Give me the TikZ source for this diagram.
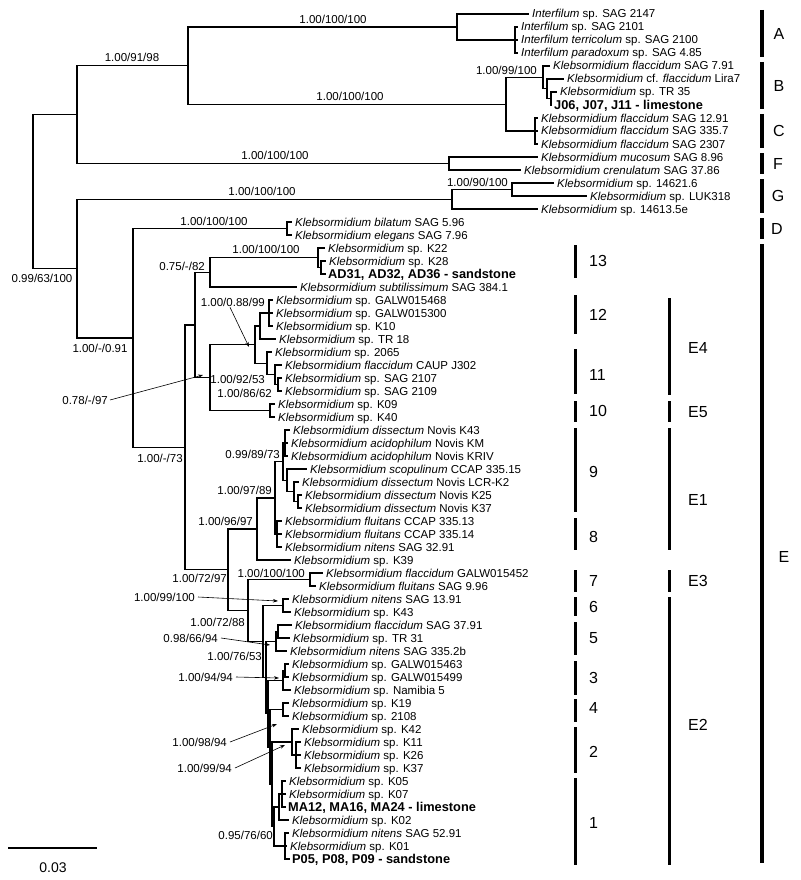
\documentclass[tikz,border=0pt]{standalone}
\usepackage{fontspec}
\setmainfont{Liberation Sans}
\usetikzlibrary{arrows.meta}
\newcommand\Kl{\textit{Klebsormidium}}
\newcommand\Lf[4]{\coordinate (L#1) at (#2,#3); \node[leaf] (T#1) at ([shift={(4,4)}]L#1) {#4};}
\newcommand\Lbold[4]{\coordinate (L#1) at (#2,#3); \node[leaf,font=\fontsize{12.8}{13}\selectfont\bfseries] (T#1) at ([shift={(3,4.5)}]L#1) {#4};}
\newcommand\Br[2]{\draw[branch] (#1) |- (#2);}
\begin{document}
\begin{tikzpicture}[x=1pt,y=-1pt,
  branch/.style={line width=1.25pt, line cap=rect},
  leaf/.style={anchor=base west, inner sep=0pt, font=\fontsize{11.5}{13}\selectfont},
  supp/.style={inner sep=0pt, font=\fontsize{11.5}{13}\selectfont},
  suppR/.style={supp, anchor=base east},
  suppC/.style={supp, anchor=base},
  pointer/.style={line width=0.6pt, -{Stealth[length=5pt,width=3.5pt]}},
  bigbar/.style={line width=4pt},
  smallbar/.style={line width=3pt},
  clabel/.style={inner sep=0pt, font=\fontsize{16}{18}\selectfont}]
\useasboundingbox[fill=white] (0,0) rectangle (800,880);

% ---------- leaves ----------
\Lf{1}{528}{14}{\textit{Interfilum} sp. SAG 2147}
\Lf{2}{517}{27}{\textit{Interfilum} sp. SAG 2101}
\Lf{3}{517}{40}{\textit{Interfilum terricolum} sp. SAG 2100}
\Lf{4}{517}{53}{\textit{Interfilum paradoxum} sp. SAG 4.85}
\Lf{5}{549}{66}{\textit{Klebsormidium flaccidum} SAG 7.91}
\Lf{6}{563}{79}{\Kl{} cf. \textit{flaccidum} Lira7}
\Lf{7}{556}{92}{\Kl{} sp. TR 35}
\Lbold{8}{551}{105}{J06, J07, J11 - limestone}
\Lf{9}{537}{118}{\textit{Klebsormidium flaccidum} SAG 12.91}
\Lf{10}{537}{131}{\textit{Klebsormidium flaccidum} SAG 335.7}
\Lf{11}{537}{144}{\textit{Klebsormidium flaccidum} SAG 2307}
\Lf{12}{537}{157}{\textit{Klebsormidium mucosum} SAG 8.96}
\Lf{13}{520}{170}{\textit{Klebsormidium crenulatum} SAG 37.86}
\Lf{14}{553}{183}{\Kl{} sp. 14621.6}
\Lf{15}{586}{196}{\Kl{} sp. LUK318}
\Lf{16}{537}{209}{\Kl{} sp. 14613.5e}
\Lf{17}{291}{222}{\textit{Klebsormidium bilatum} SAG 5.96}
\Lf{18}{291}{235}{\textit{Klebsormidium elegans} SAG 7.96}
\Lf{19}{324}{248}{\Kl{} sp. K22}
\Lf{20}{325}{261}{\Kl{} sp. K28}
\Lbold{21}{325}{274}{AD31, AD32, AD36 - sandstone}
\Lf{22}{296}{287}{\textit{Klebsormidium subtilissimum} SAG 384.1}
\Lf{23}{272}{300}{\Kl{} sp. GALW015468}
\Lf{24}{272}{313}{\Kl{} sp. GALW015300}
\Lf{25}{272}{326}{\Kl{} sp. K10}
\Lf{26}{275}{339}{\Kl{} sp. TR 18}
\Lf{27}{271}{352}{\Kl{} sp. 2065}
\Lf{28}{281}{365}{\textit{Klebsormidium flaccidum} CAUP J302}
\Lf{29}{281}{378}{\Kl{} sp. SAG 2107}
\Lf{30}{281}{391}{\Kl{} sp. SAG 2109}
\Lf{31}{274}{404}{\Kl{} sp. K09}
\Lf{32}{274}{417}{\Kl{} sp. K40}
\Lf{33}{289}{430}{\textit{Klebsormidium dissectum} Novis K43}
\Lf{34}{287}{443}{\textit{Klebsormidium acidophilum} Novis KM}
\Lf{35}{287}{456}{\textit{Klebsormidium acidophilum} Novis KRIV}
\Lf{36}{306}{469}{\textit{Klebsormidium scopulinum} CCAP 335.15}
\Lf{37}{298}{482}{\textit{Klebsormidium dissectum} Novis LCR-K2}
\Lf{38}{301}{495}{\textit{Klebsormidium dissectum} Novis K25}
\Lf{39}{301}{508}{\textit{Klebsormidium dissectum} Novis K37}
\Lf{40}{281}{521}{\textit{Klebsormidium fluitans} CCAP 335.13}
\Lf{41}{281}{534}{\textit{Klebsormidium fluitans} CCAP 335.14}
\Lf{42}{281}{547}{\textit{Klebsormidium nitens} SAG 32.91}
\Lf{43}{290}{560}{\Kl{} sp. K39}
\Lf{44}{322}{573}{\textit{Klebsormidium flaccidum} GALW015452}
\Lf{45}{315}{586}{\textit{Klebsormidium fluitans} SAG 9.96}
\Lf{46}{288}{599}{\textit{Klebsormidium nitens} SAG 13.91}
\Lf{47}{290}{612}{\Kl{} sp. K43}
\Lf{48}{291}{625}{\textit{Klebsormidium flaccidum} SAG 37.91}
\Lf{49}{289}{638}{\Kl{} sp. TR 31}
\Lf{50}{286}{651}{\textit{Klebsormidium nitens} SAG 335.2b}
\Lf{51}{288}{664}{\Kl{} sp. GALW015463}
\Lf{52}{288}{677}{\Kl{} sp. GALW015499}
\Lf{53}{290}{690}{\Kl{} sp. Namibia 5}
\Lf{54}{288}{703}{\Kl{} sp. K19}
\Lf{55}{288}{716}{\Kl{} sp. 2108}
\Lf{56}{298}{729}{\Kl{} sp. K42}
\Lf{57}{300}{742}{\Kl{} sp. K11}
\Lf{58}{300}{755}{\Kl{} sp. K26}
\Lf{59}{300}{768}{\Kl{} sp. K37}
\Lf{60}{285}{781}{\Kl{} sp. K05}
\Lf{61}{285}{794}{\Kl{} sp. K07}
\Lbold{62}{285}{807}{MA12, MA16, MA24 - limestone}
\Lf{63}{288}{820}{\Kl{} sp. K02}
\Lf{64}{288}{833}{\textit{Klebsormidium nitens} SAG 52.91}
\Lf{65}{286}{846}{\Kl{} sp. K01}
\Lbold{66}{289}{859}{P05, P08, P09 - sandstone}

% ---------- internal nodes ----------
\coordinate (NA2) at (515,40);
\coordinate (NA) at (457,27);
\coordinate (NB3) at (551,98.5);
\coordinate (NB2) at (547,88.75);
\coordinate (NB) at (543,77.4);
\coordinate (NC) at (535,131);
\coordinate (NBC) at (506,104.2);
\coordinate (N3) at (188,65.6);
\coordinate (NF) at (449,163.5);
\coordinate (N1) at (77,114.5);
\coordinate (NG2) at (512,189.5);
\coordinate (NG) at (452,199.25);
\coordinate (N5) at (287,228.5);
\coordinate (N13b) at (321,267.5);
\coordinate (N13) at (318,257.75);
\coordinate (N13p) at (210,272.4);
\coordinate (N12) at (269,313);
\coordinate (N12a) at (260,326);
\coordinate (N11c) at (278,384.5);
\coordinate (N11b) at (275,374.75);
\coordinate (N11) at (267,363.4);
\coordinate (NE4) at (255,344.7);
\coordinate (N10) at (270,410.5);
\coordinate (NE45) at (210,377.6);
\coordinate (N6) at (195,325);
\coordinate (N9a) at (285,443);
\coordinate (N9e) at (298,501.5);
\coordinate (N9d) at (294,491.75);
\coordinate (N9b) at (287,480.4);
\coordinate (N9c) at (283,461.7);
\coordinate (N8c) at (277,534);
\coordinate (N89) at (275,497.9);
\coordinate (N8) at (257,528.9);
\coordinate (N7c) at (310,579.5);
\coordinate (N6c) at (283,605.5);
\coordinate (N5a) at (278,631.5);
\coordinate (N5c) at (276,641.25);
\coordinate (N3a) at (285,670.5);
\coordinate (N3c) at (283,680.25);
\coordinate (N4c) at (283,709.5);
\coordinate (N2b) at (296,755);
\coordinate (N2c) at (292,742);
\coordinate (N1a) at (282,794);
\coordinate (N1b) at (279,807);
\coordinate (N1d) at (285,846);
\coordinate (N1c) at (274,826.5);
\coordinate (NL4) at (272,784.25);
\coordinate (NL3) at (270,746.9);
\coordinate (NL2) at (268,713.6);
\coordinate (NL1) at (266,677.4);
\coordinate (NE2) at (263,641.5);
\coordinate (N9) at (248,610.5);
\coordinate (N7) at (228,569.7);
\coordinate (NE) at (185,447.35);
\coordinate (N4) at (133,337.9);
\coordinate (N2) at (77,268.6);
\coordinate (R) at (33,191.5);

% ---------- branches ----------
\Br{R}{N1}\Br{R}{N2}
\Br{N1}{N3}\Br{N1}{NF}
\Br{N3}{NA}\Br{N3}{NBC}
\Br{NA}{L1}\Br{NA}{NA2}
\Br{NA2}{L2}\Br{NA2}{L3}\Br{NA2}{L4}
\Br{NBC}{NB}\Br{NBC}{NC}
\Br{NB}{L5}\Br{NB}{NB2}
\Br{NB2}{L6}\Br{NB2}{NB3}
\Br{NB3}{L7}\Br{NB3}{L8}
\Br{NC}{L9}\Br{NC}{L10}\Br{NC}{L11}
\Br{NF}{L12}\Br{NF}{L13}
\Br{N2}{NG}\Br{N2}{N4}
\Br{NG}{NG2}\Br{NG}{L16}
\Br{NG2}{L14}\Br{NG2}{L15}
\Br{N4}{N5}\Br{N4}{NE}
\Br{N5}{L17}\Br{N5}{L18}
\Br{NE}{N6}\Br{NE}{N7}
\Br{N6}{N13p}\Br{N6}{NE45}
\Br{N13p}{N13}\Br{N13p}{L22}
\Br{N13}{L19}\Br{N13}{N13b}
\Br{N13b}{L20}\Br{N13b}{L21}
\Br{NE45}{NE4}\Br{NE45}{N10}
\Br{NE4}{N12a}\Br{NE4}{N11}
\Br{N12a}{N12}\Br{N12a}{L26}
\Br{N12}{L23}\Br{N12}{L24}\Br{N12}{L25}
\Br{N11}{L27}\Br{N11}{N11b}
\Br{N11b}{L28}\Br{N11b}{N11c}
\Br{N11c}{L29}\Br{N11c}{L30}
\Br{N10}{L31}\Br{N10}{L32}
\Br{N7}{N8}\Br{N7}{N9}
\Br{N8}{N89}\Br{N8}{L43}
\Br{N89}{N9c}\Br{N89}{N8c}
\Br{N9c}{N9a}\Br{N9c}{N9b}
\Br{N9a}{L33}\Br{N9a}{L34}\Br{N9a}{L35}
\Br{N9b}{L36}\Br{N9b}{N9d}
\Br{N9d}{L37}\Br{N9d}{N9e}
\Br{N9e}{L38}\Br{N9e}{L39}
\Br{N8c}{L40}\Br{N8c}{L41}\Br{N8c}{L42}
\Br{N9}{N7c}\Br{N9}{NE2}
\Br{N7c}{L44}\Br{N7c}{L45}
\Br{NE2}{N6c}\Br{NE2}{NL1}
\Br{N6c}{L46}\Br{N6c}{L47}
\Br{NL1}{N5c}\Br{NL1}{NL2}
\Br{N5c}{N5a}\Br{N5c}{L50}
\Br{N5a}{L48}\Br{N5a}{L49}
\Br{NL2}{N3c}\Br{NL2}{NL3}
\Br{N3c}{N3a}\Br{N3c}{L53}
\Br{N3a}{L51}\Br{N3a}{L52}
\Br{NL3}{N4c}\Br{NL3}{NL4}
\Br{N4c}{L54}\Br{N4c}{L55}
\Br{NL4}{N2c}\Br{NL4}{N1c}
\Br{N2c}{L56}\Br{N2c}{N2b}
\Br{N2b}{L57}\Br{N2b}{L58}\Br{N2b}{L59}
\Br{N1c}{N1b}\Br{N1c}{N1d}
\Br{N1b}{N1a}\Br{N1b}{L63}
\Br{N1a}{L60}\Br{N1a}{L61}\Br{N1a}{L62}
\Br{N1d}{L64}\Br{N1d}{L65}\Br{N1d}{L66}

% ---------- support values ----------
\node[suppC] (sA) at (333,24) {1.00/100/100};
\node[suppC] (sN3) at (132,62) {1.00/91/98};
\node[suppC] (sBC) at (350,101) {1.00/100/100};
\node[suppR] (sB) at (537,75) {1.00/99/100};
\node[suppC] (sF) at (275,159) {1.00/100/100};
\node[suppR] (sG2) at (508,186) {1.00/90/100};
\node[suppC] (sG) at (262,195) {1.00/100/100};
\node[suppC] (sR) at (42,282) {0.99/63/100};
\node[suppC] (sN5) at (214,225) {1.00/100/100};
\node[suppR] (s13p) at (205,270) {0.75/-/82};
\node[suppC] (s13) at (266,253) {1.00/100/100};
\node[suppC] (sN4) at (100,352) {1.00/-/0.91};
\node[suppR] (sE4) at (265,306) {1.00/0.88/99};
\node[suppR] (s11) at (265,383) {1.00/92/53};
\node[suppR] (s11b) at (272,397) {1.00/86/62};
\node[suppR] (sE45) at (108,404) {0.78/-/97};
\node[suppC] (sNE) at (160,462) {1.00/-/73};
\node[suppR] (s9) at (280,458) {0.99/89/73};
\node[suppR] (s89) at (272,494) {1.00/97/89};
\node[suppR] (s8) at (253,525) {1.00/96/97};
\node[suppR] (s7) at (227,582) {1.00/72/97};
\node[suppR] (s7c) at (305,577) {1.00/100/100};
\node[suppR] (s6) at (195,601) {1.00/99/100};
\node[suppR] (s9n) at (245,626) {1.00/72/88};
\node[suppR] (s5) at (218,642) {0.98/66/94};
\node[suppR] (sL1) at (262,660) {1.00/76/53};
\node[suppR] (s3) at (233,681) {1.00/94/94};
\node[suppR] (sL3) at (227,746) {1.00/98/94};
\node[suppR] (s2) at (232,772) {1.00/99/94};
\node[suppR] (s1d) at (273,839) {0.95/76/60};

% arrow targets
\coordinate (aE4) at (249,347);
\coordinate (aE45) at (203,375);
\coordinate (a6) at (278,601);
\coordinate (a5) at (270,645);
\coordinate (a3) at (279,678);
\coordinate (aL3) at (277,724);
\coordinate (a2) at (285,745);
\draw[pointer] ([xshift=-35pt,yshift=-1pt]sE4.south east) -- (aE4);
\draw[pointer] ([xshift=2pt,yshift=4pt]sE45.base east) -- (aE45);
\draw[pointer] ([xshift=3pt,yshift=4pt]s6.base east) -- (a6);
\draw[pointer] ([xshift=3pt,yshift=4pt]s5.base east) -- (a5);
\draw[pointer] ([xshift=3pt,yshift=4pt]s3.base east) -- (a3);
\draw[pointer] ([xshift=3pt,yshift=4pt]sL3.base east) -- (aL3);
\draw[pointer] ([xshift=3pt,yshift=4pt]s2.base east) -- (a2);

% ---------- clade bars ----------
\draw[bigbar] (762,10) -- (762,57);   \node[clabel] (cA) at (779,33.5) {A};
\draw[bigbar] (762,62) -- (762,109);  \node[clabel] (cB) at (779,85.5) {B};
\draw[bigbar] (762,114) -- (762,148); \node[clabel] (cC) at (779,131) {C};
\draw[bigbar] (762,153) -- (762,174); \node[clabel] (cF) at (778,163.5) {F};
\draw[bigbar] (762,179) -- (762,213); \node[clabel] (cG) at (778,196) {G};
\draw[bigbar] (762,218) -- (762,239); \node[clabel] (cD) at (777,228.5) {D};
\draw[bigbar] (762,244) -- (762,863); \node[clabel] (cE) at (784,557) {E};

\draw[smallbar] (575,245) -- (575,278); \node[clabel,anchor=west] (n13) at (589,261) {13};
\draw[smallbar] (575,295) -- (575,334); \node[clabel,anchor=west] (n12) at (589,315) {12};
\draw[smallbar] (575,349) -- (575,394); \node[clabel,anchor=west] (n11) at (589,375) {11};
\draw[smallbar] (575,401) -- (575,422); \node[clabel,anchor=west] (n10) at (589,411) {10};
\draw[smallbar] (575,428) -- (575,512); \node[clabel,anchor=west] (n9) at (589,472) {9};
\draw[smallbar] (575,518) -- (575,550); \node[clabel,anchor=west] (n8) at (589,537) {8};
\draw[smallbar] (575,570) -- (575,592); \node[clabel,anchor=west] (n7) at (589,581) {7};
\draw[smallbar] (575,597) -- (575,616); \node[clabel,anchor=west] (n6) at (589,607) {6};
\draw[smallbar] (575,622) -- (575,655); \node[clabel,anchor=west] (n5) at (589,638) {5};
\draw[smallbar] (575,661) -- (575,695); \node[clabel,anchor=west] (n3) at (589,678) {3};
\draw[smallbar] (575,699) -- (575,722); \node[clabel,anchor=west] (n4) at (589,708) {4};
\draw[smallbar] (575,727) -- (575,773); \node[clabel,anchor=west] (n2) at (589,752) {2};
\draw[smallbar] (575,778) -- (575,865); \node[clabel,anchor=west] (n1) at (589,823) {1};

\draw[smallbar] (669,298) -- (669,395); \node[clabel,anchor=west] (e4) at (688,348) {E4};
\draw[smallbar] (669,401) -- (669,422); \node[clabel,anchor=west] (e5) at (688,412) {E5};
\draw[smallbar] (669,428) -- (669,550); \node[clabel,anchor=west] (e1) at (688,500) {E1};
\draw[smallbar] (669,570) -- (669,592); \node[clabel,anchor=west] (e3) at (688,581) {E3};
\draw[smallbar] (669,597) -- (669,865); \node[clabel,anchor=west] (e2) at (688,725) {E2};

% ---------- scale bar ----------
\coordinate (sb1) at (8,848);
\coordinate (sb2) at (97,848);
\draw[line width=1.25pt] (sb1) -- (sb2);
\node[inner sep=0pt, font=\fontsize{14}{16}\selectfont] (sbl) at (53,868) {0.03};
\end{tikzpicture}
\end{document}
